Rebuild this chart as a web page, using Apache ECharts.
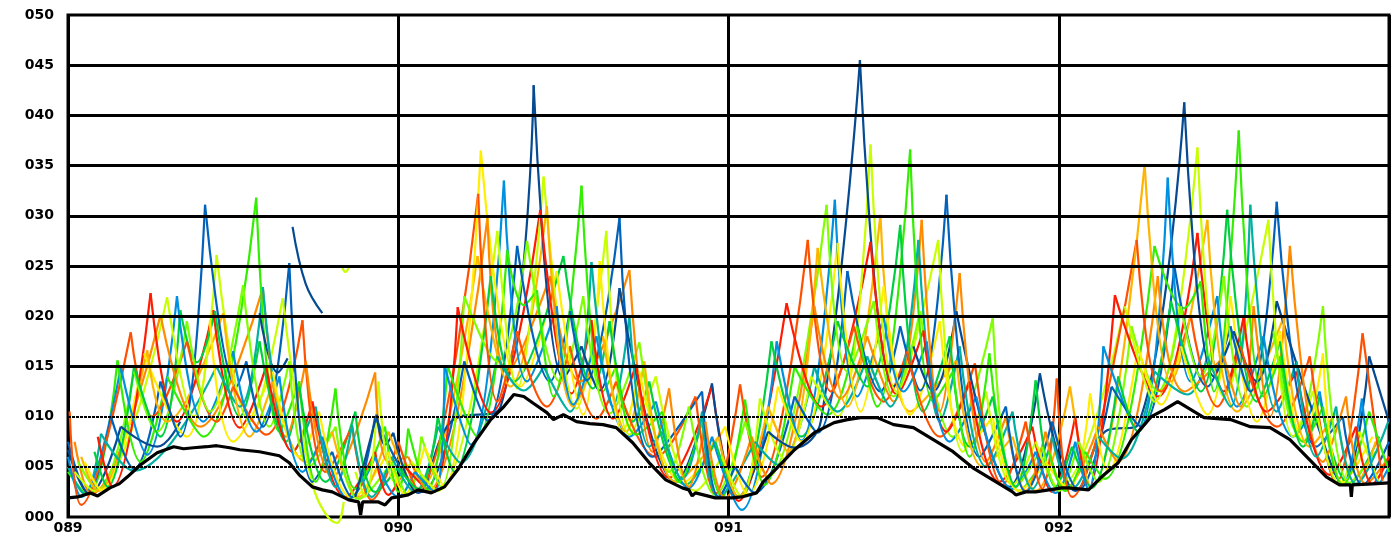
<!DOCTYPE html>
<html>
<head>
<meta charset="utf-8">
<script src="https://cdn.jsdelivr.net/npm/echarts@6/dist/echarts.min.js"></script>
<style>
html,body{margin:0;padding:0;background:#fff;}
#chart{width:1394px;height:541px;}
</style>
</head>
<body>
<div id="chart"></div>
<script>
// ---- data (x = day number, y = value) ----
const xTicks = [89, 90, 91, 92, 93];
const yTicks = [0, 5, 10, 15, 20, 25, 30, 35, 40, 45, 50];

const baseline = [[89.0,1.9],[89.03,2.0],[89.067,2.4],[89.09,2.1],[89.127,2.9],[89.155,3.3],[89.18,4.0],[89.22,5.2],[89.27,6.4],[89.32,7.0],[89.35,6.8],[89.38,6.9],[89.42,7.0],[89.45,7.1],[89.49,6.9],[89.52,6.7],[89.58,6.5],[89.64,6.1],[89.67,5.4],[89.70,4.2],[89.74,3.0],[89.77,2.7],[89.80,2.5],[89.85,1.7],[89.88,1.5],[89.886,0.2],[89.892,1.5],[89.94,1.5],[89.96,1.2],[89.98,1.9],[90.0,2.0],[90.03,2.2],[90.06,2.7],[90.10,2.4],[90.14,3.0],[90.18,4.7],[90.23,7.4],[90.28,9.7],[90.32,11.0],[90.35,12.2],[90.38,12.0],[90.41,11.3],[90.45,10.4],[90.47,9.7],[90.50,10.2],[90.54,9.5],[90.58,9.3],[90.62,9.2],[90.66,8.9],[90.71,7.4],[90.76,5.4],[90.81,3.7],[90.86,2.9],[90.88,2.7],[90.89,2.1],[90.90,2.4],[90.96,1.9],[91.01,1.9],[91.04,2.0],[91.085,2.4],[91.105,3.5],[91.15,5.0],[91.20,6.7],[91.26,8.4],[91.32,9.4],[91.36,9.7],[91.40,9.9],[91.45,9.9],[91.50,9.2],[91.56,8.9],[91.62,7.7],[91.68,6.5],[91.74,4.9],[91.80,3.7],[91.86,2.5],[91.87,2.2],[91.90,2.5],[91.93,2.5],[91.97,2.7],[92.01,2.9],[92.03,2.9],[92.09,2.7],[92.13,4.0],[92.18,5.4],[92.22,7.7],[92.28,10.0],[92.32,10.7],[92.36,11.5],[92.40,10.7],[92.44,9.9],[92.48,9.8],[92.52,9.7],[92.58,9.0],[92.64,8.9],[92.70,7.7],[92.76,5.7],[92.81,4.0],[92.85,3.2],[92.883,3.2],[92.886,2.0],[92.889,3.2],[92.95,3.3],[93.0,3.4]];

const red = [[89.09,8.0],[89.135,3.0],[89.25,22.3],[89.33,9.5],[89.44,20.6],[89.52,8.9],[89.60,15.0],[89.68,6.5],[89.74,11.5],[89.84,2.0],[89.93,6.5],[89.97,2.2],[90.02,5.0],[90.10,2.5],[90.18,20.9],[90.28,10.4],[90.43,30.6],[90.525,12.3],[90.585,19.6],[90.65,9.8],[90.72,15.2],[90.82,3.9],[90.95,13.0],[91.03,1.6],[91.176,21.3],[91.28,11.0],[91.43,27.4],[91.51,12.2],[91.59,18.6],[91.66,8.5],[91.73,13.5],[91.82,3.5],[91.92,9.0],[91.98,2.5],[92.05,10.0],[92.09,2.8],[92.17,22.1],[92.30,12.0],[92.42,28.3],[92.50,12.5],[92.56,20.0],[92.63,10.5],[92.72,14.5],[92.82,4.2],[92.90,9.0],[92.95,3.3],[93.0,6.0]];

const orangeRed = [[89.005,10.5],[89.04,1.2],[89.19,18.4],[89.255,10.0],[89.36,17.5],[89.45,9.5],[89.50,13.0],[89.60,8.2],[89.71,19.6],[89.78,4.5],[89.86,9.0],[89.92,1.7],[90.0,7.5],[90.06,2.8],[90.242,32.2],[90.30,11.5],[90.36,18.5],[90.45,11.0],[90.52,17.0],[90.60,9.8],[90.66,13.5],[90.78,6.0],[90.90,12.0],[90.96,2.3],[91.035,13.2],[91.10,4.0],[91.24,27.6],[91.31,12.5],[91.38,19.0],[91.47,11.5],[91.54,16.5],[91.64,8.0],[91.746,15.3],[91.83,3.2],[91.90,9.5],[91.95,2.8],[91.994,13.8],[92.04,2.0],[92.236,27.6],[92.31,12.5],[92.40,20.0],[92.48,11.0],[92.55,17.0],[92.66,9.0],[92.76,16.0],[92.84,3.4],[92.92,18.3],[92.98,3.6]];

const orange = [[89.02,7.5],[89.07,2.3],[89.28,20.1],[89.40,9.0],[89.59,22.8],[89.66,8.0],[89.72,15.5],[89.80,4.0],[89.93,14.4],[89.97,5.5],[90.03,6.0],[90.09,2.6],[90.27,29.8],[90.33,14.5],[90.46,24.0],[90.55,13.5],[90.70,24.6],[90.77,6.5],[90.82,12.8],[90.88,3.0],[90.93,9.5],[90.99,1.9],[91.07,8.0],[91.13,3.3],[91.26,21.0],[91.34,11.8],[91.42,18.0],[91.50,11.5],[91.585,29.6],[91.64,10.5],[91.70,24.3],[91.78,5.5],[91.84,10.0],[91.90,2.6],[91.96,8.5],[92.02,2.8],[92.12,9.0],[92.18,5.5],[92.30,24.0],[92.38,12.5],[92.50,16.0],[92.55,11.0],[92.59,21.0],[92.64,10.0],[92.70,27.0],[92.80,5.5],[92.87,12.0],[92.93,3.3],[93.0,6.0]];

const amber = [[89.04,6.0],[89.09,2.6],[89.24,16.6],[89.30,9.5],[89.47,20.3],[89.55,8.0],[89.62,13.5],[89.72,5.5],[89.80,8.5],[89.88,2.0],[89.97,8.5],[90.06,2.6],[90.24,26.0],[90.34,13.0],[90.45,31.0],[90.53,11.0],[90.62,18.0],[90.69,8.5],[90.745,15.5],[90.84,3.5],[90.97,8.0],[91.03,2.0],[91.12,11.0],[91.18,6.5],[91.27,26.8],[91.36,11.0],[91.46,30.1],[91.55,10.5],[91.69,15.6],[91.77,5.0],[91.86,8.0],[91.93,2.6],[92.034,13.0],[92.10,2.9],[92.26,35.1],[92.34,13.5],[92.45,29.6],[92.54,10.5],[92.68,19.8],[92.76,7.0],[92.84,10.5],[92.90,3.3],[92.96,7.5]];

const yellow = [[89.05,5.5],[89.10,2.7],[89.23,16.3],[89.36,8.0],[89.43,19.6],[89.50,7.5],[89.62,14.5],[89.70,6.0],[89.76,10.5],[89.86,1.9],[89.97,6.5],[90.02,2.3],[90.08,7.0],[90.14,3.0],[90.25,36.5],[90.37,13.0],[90.48,24.5],[90.56,10.2],[90.61,25.5],[90.68,8.5],[90.73,14.5],[90.86,3.4],[90.99,9.0],[91.06,2.2],[91.15,13.0],[91.22,7.5],[91.33,27.3],[91.40,10.5],[91.47,23.0],[91.55,10.2],[91.64,19.5],[91.72,7.0],[91.80,10.0],[91.88,2.6],[91.96,5.5],[92.03,2.8],[92.095,12.3],[92.15,4.6],[92.24,17.0],[92.31,11.2],[92.37,17.0],[92.45,10.2],[92.52,22.0],[92.60,9.5],[92.67,18.5],[92.74,7.5],[92.80,16.3],[92.86,3.4],[92.95,8.0]];

const yellowGreen = [[89.02,4.5],[89.08,2.6],[89.30,21.9],[89.38,10.0],[89.45,26.1],[89.55,9.5],[89.65,21.8],[89.74,3.3],[89.815,-0.6],[89.835,1.5],null,[89.83,24.9],[89.84,24.4],[89.85,24.8],null,[89.87,4.5],[89.90,2.0],[89.94,13.5],[89.99,3.5],[90.04,5.5],[90.12,2.6],[90.30,28.5],[90.36,12.8],[90.44,33.9],[90.54,10.8],[90.63,28.5],[90.70,8.2],[90.78,14.0],[90.90,2.6],[90.98,6.0],[91.04,2.0],[91.095,11.8],[91.17,5.8],[91.25,14.0],[91.33,10.0],[91.43,37.1],[91.51,12.5],[91.635,27.6],[91.71,6.5],[91.78,12.5],[91.86,3.2],[91.93,7.5],[92.0,2.9],[92.20,21.0],[92.29,11.5],[92.42,36.8],[92.50,12.0],[92.635,29.6],[92.71,8.0],[92.77,12.5],[92.85,3.3],[92.91,8.5],[92.97,3.3]];

const lime = [[89.03,5.5],[89.09,2.7],[89.20,14.5],[89.27,8.5],[89.36,19.5],[89.43,10.5],[89.53,23.1],[89.61,9.0],[89.67,15.5],[89.73,5.0],[89.81,9.0],[89.88,1.8],[89.98,5.5],[90.03,2.2],[90.07,8.0],[90.13,3.0],[90.20,22.0],[90.30,15.5],[90.39,27.5],[90.49,13.5],[90.56,22.0],[90.64,10.3],[90.73,17.4],[90.82,4.5],[90.88,11.0],[90.96,2.2],[91.05,9.5],[91.12,4.0],[91.297,31.1],[91.36,14.5],[91.44,21.5],[91.50,12.0],[91.58,20.5],[91.68,8.0],[91.80,19.8],[91.87,3.0],[91.95,7.0],[92.0,2.6],[92.06,7.5],[92.12,3.5],[92.22,19.0],[92.30,12.5],[92.37,21.0],[92.43,14.0],[92.50,24.0],[92.57,11.0],[92.65,18.5],[92.72,8.5],[92.80,21.0],[92.88,3.4],[92.96,6.5]];

const green = [[89.0,4.5],[89.06,2.2],[89.15,15.6],[89.22,5.5],[89.30,14.0],[89.41,8.0],[89.57,31.8],[89.64,8.5],[89.70,13.5],[89.75,3.5],[89.81,12.8],[89.87,2.8],[89.96,9.0],[90.0,2.5],[90.03,8.8],[90.09,2.7],[90.15,15.0],[90.24,8.0],[90.33,26.6],[90.38,21.1],[90.42,22.6],[90.47,12.0],[90.555,33.0],[90.62,12.5],[90.66,15.0],[90.72,8.2],[90.80,10.5],[90.85,3.5],[90.92,9.5],[90.98,2.0],[91.05,11.7],[91.11,3.2],[91.20,15.0],[91.30,10.2],[91.39,19.0],[91.45,11.0],[91.55,36.6],[91.62,11.5],[91.68,14.5],[91.73,6.0],[91.79,16.3],[91.88,2.6],[91.97,6.5],[92.02,2.6],[92.08,6.5],[92.14,3.8],[92.29,27.0],[92.38,20.8],[92.43,23.5],[92.47,12.5],[92.545,38.5],[92.62,12.0],[92.67,16.0],[92.74,7.5],[92.80,11.0],[92.86,3.2],[92.94,10.5],[93.0,4.5]];

const seaGreen = [[89.08,6.5],[89.12,3.0],[89.20,15.0],[89.28,8.0],[89.34,20.6],[89.39,15.4],[89.445,20.5],[89.52,10.0],[89.58,17.5],[89.66,7.5],[89.70,13.0],[89.78,3.5],[89.87,10.5],[89.93,2.5],[90.0,5.0],[90.06,2.8],[90.12,10.0],[90.17,4.5],[90.28,24.0],[90.35,13.5],[90.50,26.0],[90.59,12.8],[90.64,19.5],[90.71,9.5],[90.76,13.5],[90.87,3.2],[90.96,7.5],[91.03,2.0],[91.13,17.5],[91.22,8.0],[91.33,19.5],[91.42,13.0],[91.52,29.1],[91.59,10.5],[91.67,18.0],[91.73,7.0],[91.80,12.0],[91.87,3.0],[91.93,13.6],[91.99,3.0],[92.04,7.0],[92.10,2.9],[92.18,14.0],[92.24,8.5],[92.34,21.5],[92.43,12.5],[92.51,30.6],[92.60,11.5],[92.67,17.5],[92.74,7.0],[92.79,12.0],[92.88,3.3],[92.97,8.0]];

const teal = [[89.0,5.0],[89.05,2.3],[89.10,8.3],[89.20,4.6],[89.45,15.0],[89.52,11.0],[89.59,22.9],[89.68,6.5],[89.75,11.0],[89.81,3.0],[89.86,9.2],[89.92,2.0],[89.98,6.0],[90.05,2.5],[90.12,9.0],[90.19,5.4],[90.30,16.0],[90.38,12.6],[90.44,15.0],[90.52,10.5],[90.585,25.4],[90.65,11.0],[90.70,20.0],[90.76,7.0],[90.80,8.5],[90.86,3.8],[90.92,10.5],[90.97,2.0],[91.08,7.5],[91.15,5.2],[91.26,15.0],[91.33,10.5],[91.42,16.0],[91.49,11.0],[91.575,27.6],[91.64,9.5],[91.70,17.0],[91.78,5.0],[91.86,10.5],[91.92,2.8],[91.98,8.0],[92.04,2.8],[92.12,8.0],[92.19,5.8],[92.29,14.5],[92.39,12.2],[92.45,16.0],[92.52,11.0],[92.58,31.1],[92.66,10.5],[92.72,15.5],[92.78,6.0],[92.84,11.0],[92.90,3.3],[93.0,9.7]];

const lightBlue = [[89.0,6.0],[89.04,2.0],[89.16,14.9],[89.24,6.2],[89.33,22.0],[89.41,9.5],[89.50,16.5],[89.57,8.5],[89.64,14.0],[89.71,4.5],[89.77,8.0],[89.85,1.8],[89.93,6.0],[90.0,2.0],[90.05,4.5],[90.11,2.5],[90.14,15.1],[90.22,7.2],[90.32,33.5],[90.39,13.5],[90.48,21.0],[90.53,11.2],[90.60,18.0],[90.70,8.0],[90.78,11.5],[90.88,2.9],[90.95,8.0],[91.04,0.7],[91.146,17.5],[91.22,7.6],[91.322,31.6],[91.39,12.0],[91.47,20.0],[91.53,12.5],[91.60,17.5],[91.67,7.5],[91.75,12.0],[91.86,2.8],[91.93,6.5],[91.99,2.4],[92.05,7.5],[92.09,2.7],[92.135,17.0],[92.24,8.5],[92.33,33.8],[92.40,13.5],[92.48,22.0],[92.54,11.0],[92.62,18.0],[92.71,8.0],[92.79,12.5],[92.86,3.2],[92.918,11.8],[92.97,3.4],[93.0,5.0]];

const blue = [[89.0,7.5],[89.06,2.5],[89.13,10.0],[89.20,4.8],[89.28,13.5],[89.34,8.0],[89.415,31.1],[89.51,13.0],[89.54,15.5],[89.59,9.0],[89.67,25.3],[89.74,3.5],[89.80,6.5],[89.86,2.0],[89.93,10.0],[90.07,2.5],[90.20,15.5],[90.27,9.6],[90.36,27.0],[90.46,13.5],[90.52,20.5],[90.57,13.6],[90.67,29.8],[90.77,6.0],[90.92,12.5],[90.97,2.0],[91.02,5.0],[91.08,2.4],[91.20,12.0],[91.27,8.4],[91.36,24.5],[91.46,12.5],[91.52,19.0],[91.58,12.6],[91.66,32.1],[91.76,6.0],[91.84,11.0],[91.90,2.5],[91.98,9.5],[92.06,2.7],[92.16,13.0],[92.25,9.0],[92.35,25.0],[92.45,13.0],[92.52,19.0],[92.58,12.5],[92.66,31.4],[92.78,7.0],[92.86,10.0],[92.92,3.2],[93.0,7.5]];

const navy = [[89.0,6.7],[89.065,2.3],[89.16,9.0],[89.27,7.0],[89.34,9.5],null,[89.58,20.3],[89.635,14.4],[89.665,15.8],null,[89.68,28.9],[89.72,23.2],[89.77,20.3],null,[89.87,2.0],[89.935,10.2],[89.96,7.2],[89.985,8.4],[90.06,2.4],[90.16,9.5],[90.31,11.0],[90.41,43.0],[90.50,13.8],[90.555,17.0],[90.61,12.6],[90.67,22.8],[90.84,3.5],[90.95,13.3],[91.03,2.0],[91.12,8.5],[91.20,6.9],[91.28,9.6],[91.398,45.5],[91.50,13.0],[91.56,17.0],[91.62,12.5],[91.69,20.5],[91.78,8.0],[91.85,3.0],[91.943,14.3],[92.0,6.0],[92.05,2.6],[92.14,8.5],[92.24,9.2],[92.38,41.3],[92.47,14.0],[92.53,18.5],[92.60,13.5],[92.66,21.5],[92.78,9.5],[92.86,3.3],[92.94,16.0],[93.0,9.5]];

// ---- styles ----
const chains = [red, orangeRed, orange, amber, yellow, yellowGreen, lime, green, seaGreen, teal, lightBlue, blue, navy];
const palette = ['#ff1a00','#ff5000','#ff8a00','#ffb400','#ffee00','#c8ff00','#80ff00','#33ee00','#00d040','#00b0a0','#0090e0','#0062bb','#064a92'];

// split each chain into arcs at its cusps (local maxima) and at nulls
function arcsOf(chain) {
  const segs = []; let cur = [];
  for (let i = 0; i < chain.length; i++) {
    const p = chain[i];
    if (p === null) { if (cur.length > 1) segs.push(cur); cur = []; continue; }
    cur.push(p);
    const prev = chain[i - 1], next = chain[i + 1];
    if (prev && next && p[1] > prev[1] && p[1] > next[1]) { segs.push(cur); cur = [p]; }
  }
  if (cur.length > 1) segs.push(cur);
  return segs;
}

const arcs = [];
chains.forEach((c, k) => arcsOf(c).forEach(s => arcs.push({ k, s })));
arcs.sort((a, b) => a.s[0][0] - b.s[0][0]);

const series = [];
series.push({
  type: 'line', data: [[89, 0]], symbol: 'none', lineStyle: { opacity: 0 }, z: 1, silent: true,
  markLine: {
    silent: true, symbol: ['none', 'none'], label: { show: false }, animation: false,
    data: yTicks.filter(v => v > 0 && v < 50).map(v => ({
      yAxis: v,
      lineStyle: { color: '#000', width: v >= 15 ? 3 : 2, type: v >= 15 ? 'solid' : [3, 1] }
    }))
  }
});
arcs.forEach(a => series.push({
  type: 'line', data: a.s, smooth: 0.4, symbol: 'none', showSymbol: false, clip: false,
  lineStyle: { color: palette[a.k], width: 2.2 }, z: 2, silent: true, animation: false
}));
series.push({
  type: 'line', data: baseline, symbol: 'none', showSymbol: false,
  lineStyle: { color: '#000', width: 3.2 }, z: 3, silent: true, animation: false
});

const lbl = { color: '#000', fontFamily: 'DejaVu Sans', fontWeight: 'bold', fontSize: 14 };
const pad = v => String(Math.round(v)).padStart(3, '0');

const chart = echarts.init(document.getElementById('chart'), null, { renderer: 'canvas' });
chart.setOption({
  animation: false,
  backgroundColor: '#fff',
  grid: { left: 68, right: 5, top: 15, bottom: 24, show: true, borderColor: '#000', borderWidth: 3, backgroundColor: 'transparent' },
  xAxis: {
    type: 'value', min: xTicks[0], max: xTicks[xTicks.length - 1], interval: 1,
    axisLine: { show: false }, axisTick: { show: false },
    axisLabel: Object.assign({ formatter: pad, margin: 4, showMaxLabel: false }, lbl),
    splitLine: { show: true, lineStyle: { color: '#000', width: 3 } }
  },
  yAxis: {
    type: 'value', min: yTicks[0], max: yTicks[yTicks.length - 1], interval: 5,
    axisLine: { show: false }, axisTick: { show: false },
    axisLabel: Object.assign({ formatter: pad, margin: 14 }, lbl),
    splitLine: { show: false }
  },
  series
});
</script>
</body>
</html>
